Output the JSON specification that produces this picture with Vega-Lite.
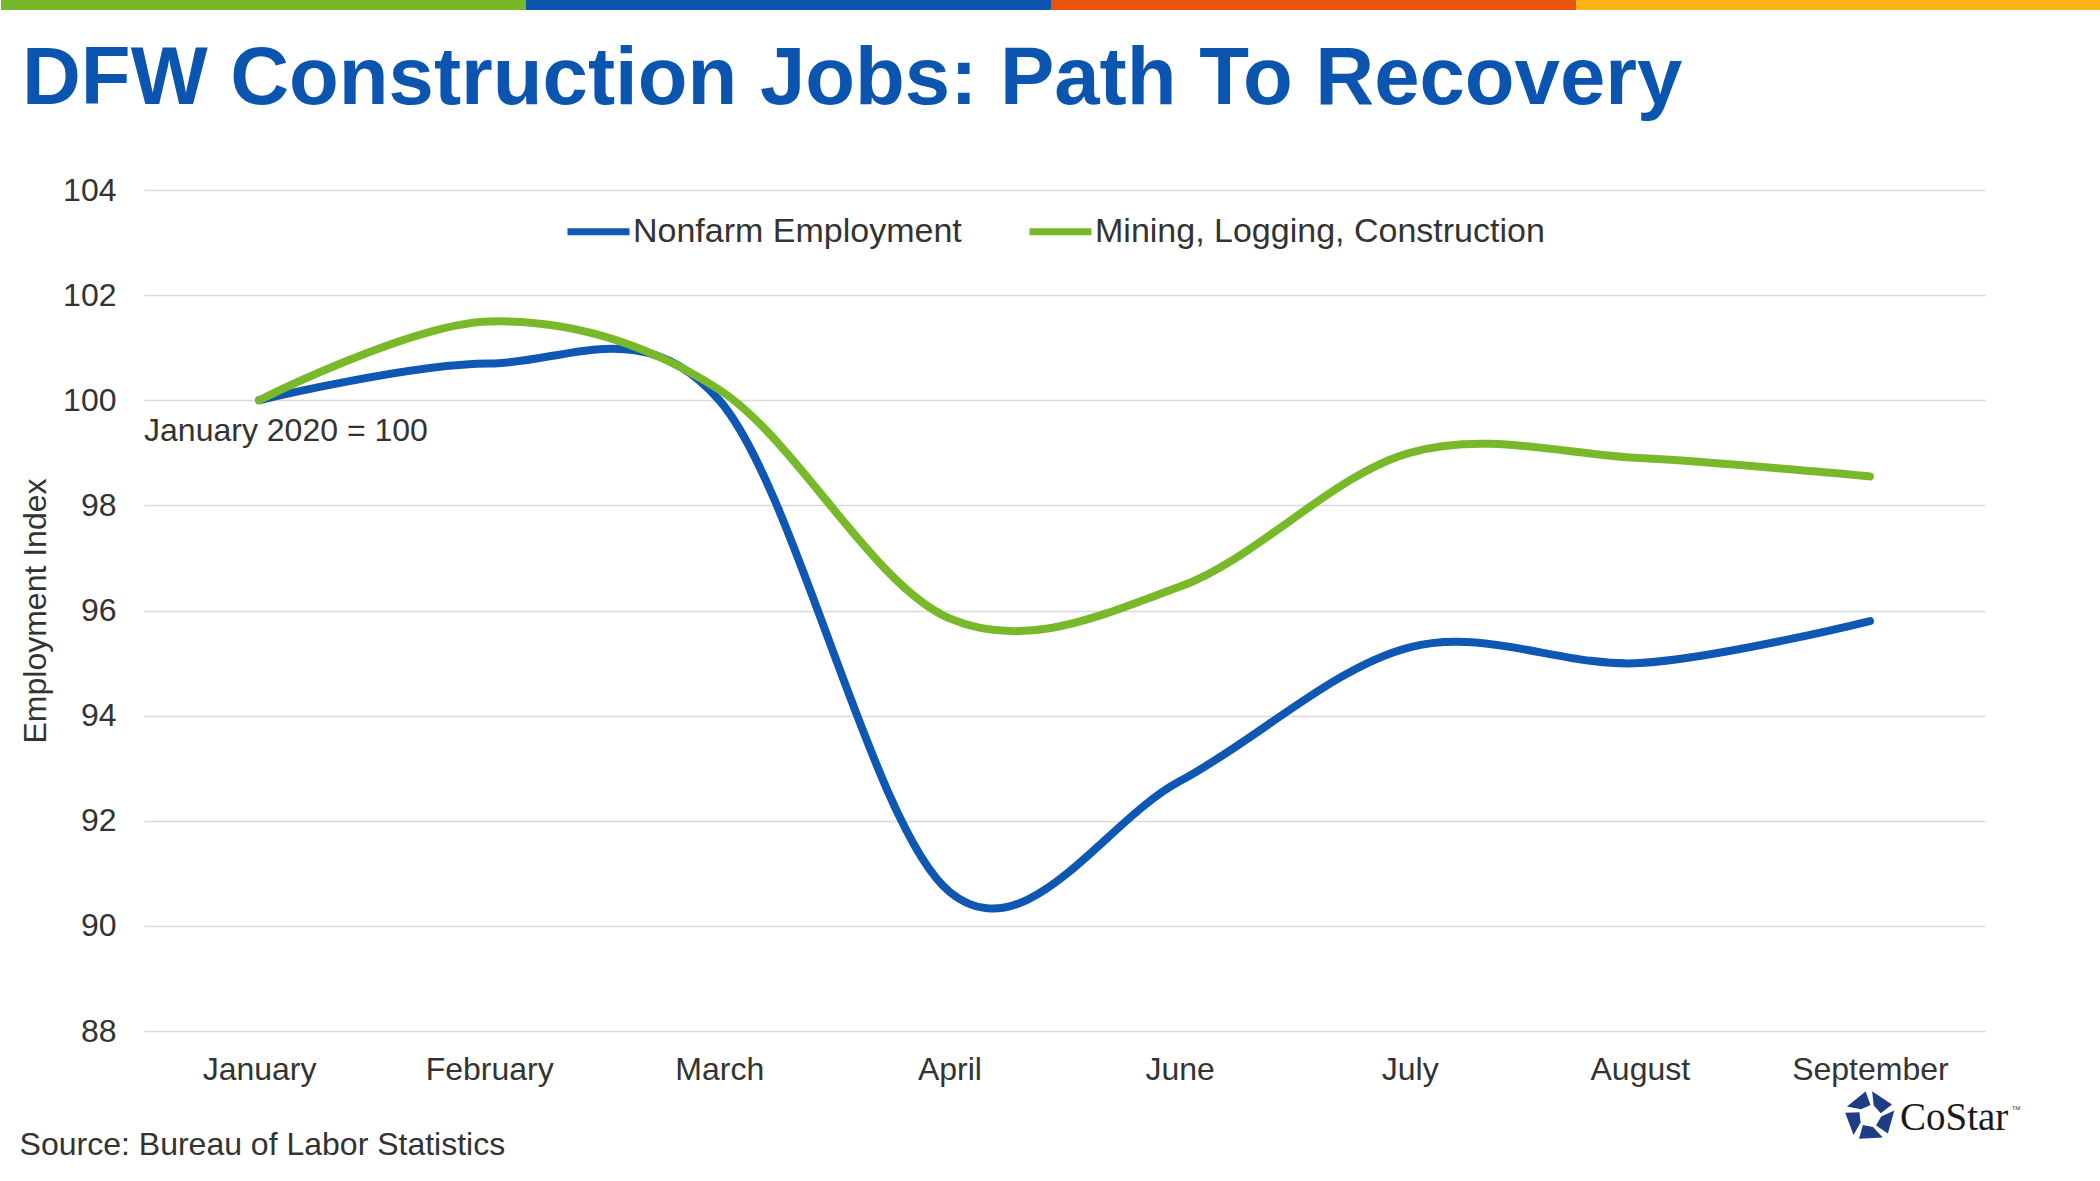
{
  "$schema": "https://vega.github.io/schema/vega-lite/v6.json",
  "background": "white",
  "padding": 0,
  "spacing": 53,
  "resolve": {"scale": {"color": "independent", "x": "independent", "y": "independent"}, "legend": {"color": "independent"}},
  "config": {
    "font": "Liberation Sans",
    "view": {"stroke": null}
  },
  "vconcat": [
    {
      "width": 1957,
      "height": 10,
      "title": {
        "text": "DFW Construction Jobs: Path To Recovery",
        "orient": "bottom",
        "anchor": "start",
        "offset": 30,
        "dx": 21,
        "font": "Liberation Sans",
        "fontSize": 81.5,
        "fontWeight": "bold",
        "color": "#0b55b1"
      },
      "data": {
        "values": [
          {"band": "green", "start": 0, "end": 1},
          {"band": "blue", "start": 1, "end": 2},
          {"band": "orange", "start": 2, "end": 3},
          {"band": "yellow", "start": 3, "end": 4}
        ]
      },
      "mark": {"type": "rect"},
      "encoding": {
        "x": {"field": "start", "type": "quantitative", "axis": null, "scale": {"domain": [0.2724, 4], "nice": false, "zero": false}},
        "x2": {"field": "end"},
        "color": {
          "field": "band",
          "type": "nominal",
          "legend": null,
          "scale": {"domain": ["green", "blue", "orange", "yellow"], "range": ["#76b82a", "#0b56b0", "#e8530e", "#fab418"]}
        }
      }
    },
    {
      "width": 1841,
      "height": 841,
      "title": {
        "text": "Source: Bureau of Labor Statistics",
        "orient": "bottom",
        "anchor": "start",
        "offset": -9,
        "font": "Liberation Sans",
        "fontSize": 32,
        "fontWeight": "normal",
        "color": "#333333"
      },
      "layer": [
        {
          "data": {
            "values": [
              {"month": "January", "series": "Nonfarm Employment", "value": 100.0},
              {"month": "February", "series": "Nonfarm Employment", "value": 100.7},
              {"month": "March", "series": "Nonfarm Employment", "value": 100.0},
              {"month": "April", "series": "Nonfarm Employment", "value": 90.65},
              {"month": "June", "series": "Nonfarm Employment", "value": 92.75},
              {"month": "July", "series": "Nonfarm Employment", "value": 95.3},
              {"month": "August", "series": "Nonfarm Employment", "value": 95.0},
              {"month": "September", "series": "Nonfarm Employment", "value": 95.8},
              {"month": "January", "series": "Mining, Logging, Construction", "value": 100.0},
              {"month": "February", "series": "Mining, Logging, Construction", "value": 101.5},
              {"month": "March", "series": "Mining, Logging, Construction", "value": 100.2},
              {"month": "April", "series": "Mining, Logging, Construction", "value": 95.85},
              {"month": "June", "series": "Mining, Logging, Construction", "value": 96.45},
              {"month": "July", "series": "Mining, Logging, Construction", "value": 99.0},
              {"month": "August", "series": "Mining, Logging, Construction", "value": 98.9},
              {"month": "September", "series": "Mining, Logging, Construction", "value": 98.55}
            ]
          },
          "mark": {"type": "line", "strokeWidth": 8, "interpolate": "cardinal", "tension": 0, "strokeCap": "round", "strokeJoin": "round"},
          "encoding": {
            "x": {
              "field": "month",
              "type": "ordinal",
              "sort": null,
              "scale": {"type": "point", "padding": 0.5, "domain": ["January", "February", "March", "April", "June", "July", "August", "September"]},
              "axis": {
                "title": null,
                "labelAngle": 0,
                "labelFontSize": 32,
                "labelColor": "#333333",
                "labelPadding": 23,
                "domain": false,
                "ticks": false,
                "tickSize": 0,
                "grid": false
              }
            },
            "y": {
              "field": "value",
              "type": "quantitative",
              "scale": {"domain": [88, 104], "nice": false, "zero": false},
              "axis": {
                "title": "Employment Index",
                "titleFontSize": 32,
                "titleFontWeight": "normal",
                "titleColor": "#333333",
                "titlePadding": 10,
                "values": [88, 90, 92, 94, 96, 98, 100, 102, 104],
                "labelFontSize": 32,
                "labelColor": "#333333",
                "labelPadding": 28,
                "domain": false,
                "ticks": false,
                "tickSize": 0,
                "grid": true,
                "gridColor": "#d9d9d9",
                "gridWidth": 1.5
              }
            },
            "color": {
              "field": "series",
              "type": "nominal",
              "scale": {"domain": ["Nonfarm Employment", "Mining, Logging, Construction"], "range": ["#0e57b2", "#78b929"]},
              "legend": {
                "title": null,
                "orient": "none",
                "direction": "horizontal",
                "columns": 2,
                "legendX": 420,
                "legendY": 7,
                "symbolType": "stroke",
                "symbolSize": 3844,
                "symbolStrokeWidth": 7,
                "labelFontSize": 34,
                "labelLimit": 0,
                "labelColor": "#333333",
                "labelOffset": 0,
                "columnPadding": 53
              }
            }
          }
        },
        {
          "data": {"values": [{"month": "January", "value": 99.42, "note": "January 2020 = 100"}]},
          "mark": {"type": "text", "align": "left", "baseline": "middle", "dx": -115, "fontSize": 32, "color": "#333333"},
          "encoding": {
            "x": {"field": "month", "type": "ordinal", "sort": null},
            "y": {"field": "value", "type": "quantitative"},
            "text": {"field": "note"}
          }
        },
        {
          "data": {"values": [{"month": "September", "value": 86.38}]},
          "mark": {
            "type": "point",
            "filled": true,
            "opacity": 1,
            "size": 2500,
            "dx": -10,
            "color": "#1f3d86",
            "shape": "M0.087,-0.996L0.883,-0.469L0.435,-0.117L0.154,-0.423Z M0.974,-0.225L0.719,0.695L0.245,0.377L0.450,0.016Z M0.515,0.857L-0.438,0.899L-0.283,0.350L0.124,0.433Z M-0.656,0.755L-0.990,-0.139L-0.420,-0.161L-0.373,0.252Z M-0.921,-0.391L-0.174,-0.985L0.024,-0.449L-0.355,-0.277Z"
          },
          "encoding": {
            "x": {"field": "month", "type": "ordinal", "sort": null},
            "y": {"field": "value", "type": "quantitative"}
          }
        },
        {
          "data": {"values": [{"month": "September", "value": 86.38, "brand": "CoStar", "mark": "™"}]},
          "layer": [
            {
              "mark": {"type": "text", "align": "left", "baseline": "middle", "dx": 30, "dy": 2, "font": "Liberation Serif", "fontSize": 39, "color": "#1a1a1a"},
              "encoding": {
                "x": {"field": "month", "type": "ordinal", "sort": null},
                "y": {"field": "value", "type": "quantitative"},
                "text": {"field": "brand"}
              }
            },
            {
              "mark": {"type": "text", "align": "left", "baseline": "middle", "dx": 141, "dy": -6, "font": "Liberation Sans", "fontSize": 10, "color": "#555555"},
              "encoding": {
                "x": {"field": "month", "type": "ordinal", "sort": null},
                "y": {"field": "value", "type": "quantitative"},
                "text": {"field": "mark"}
              }
            }
          ]
        }
      ]
    }
  ]
}
